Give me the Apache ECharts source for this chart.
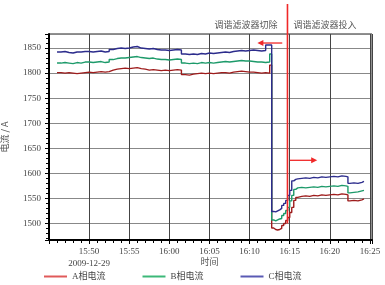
<!DOCTYPE html>
<html><head><meta charset="utf-8">
<script src="https://cdn.jsdelivr.net/npm/echarts@6/dist/echarts.min.js"></script>
<style>html,body{margin:0;padding:0;background:#fff}#c{width:385px;height:285px}</style>
</head><body><div id="c"></div>
<script>
var seriesNames = ['A相电流', 'B相电流', 'C相电流'];
var times = [
 '15:46:00','15:46:30','15:47:00','15:47:30','15:48:00','15:48:30','15:49:00','15:49:30','15:50:00','15:50:30',
 '15:51:00','15:51:30','15:52:00','15:52:30','15:53:00','15:53:30','15:54:00','15:54:30','15:55:00','15:55:30',
 '15:56:00','15:56:30','15:57:00','15:57:30','15:58:00','15:58:30','15:59:00','15:59:30','16:00:00','16:00:30',
 '16:01:00','16:01:30','16:02:00','16:02:30','16:03:00','16:03:30','16:04:00','16:04:30','16:05:00','16:05:30',
 '16:06:00','16:06:30','16:07:00','16:07:30','16:08:00','16:08:30','16:09:00','16:09:30','16:10:00','16:10:30',
 '16:11:00','16:11:30','16:12:00','16:12:30',
 '16:12:45','16:13:00','16:13:15','16:13:30','16:13:45','16:14:00','16:14:15','16:14:30','16:14:45','16:15:00',
 '16:15:15','16:15:30','16:15:45','16:16:00','16:16:30','16:17:00','16:17:30','16:18:00','16:18:30','16:19:00',
 '16:19:30','16:20:00','16:20:30','16:21:00','16:21:30','16:22:00','16:22:15','16:22:30','16:23:00','16:23:30',
 '16:24:00','16:24:15'
];
var phaseA = [
 1801,1800,1801,1800,1799,1800,1801,1802,1801,1802,1803,1802,1803,1806,1808,1809,1810,1809,1810,1811,
 1809,1808,1806,1807,1806,1805,1806,1805,1806,1807,1806,1797,1796,1798,1799,1800,1799,1800,1799,1800,
 1801,1801,1800,1802,1803,1804,1803,1802,1802,1801,1800,1801,1800,1816,
 1491,1488,1487,1488,1490,1496,1500,1506,1512,1522,1532,1546,1552,1554,1555,1554,1556,1555,1557,1556,
 1557,1558,1557,1559,1558,1557,1545,1546,1545,1547,1549,1549
];
var phaseB = [
 1820,1821,1820,1819,1821,1820,1822,1822,1821,1822,1823,1821,1822,1827,1829,1830,1830,1831,1832,1833,
 1831,1830,1829,1830,1828,1827,1827,1826,1827,1828,1827,1820,1819,1820,1819,1821,1820,1821,1820,1821,
 1822,1823,1822,1823,1824,1825,1824,1824,1823,1822,1822,1821,1822,1838,
 1507,1505,1507,1509,1510,1516,1520,1526,1532,1545,1556,1568,1571,1572,1571,1572,1573,1572,1574,1573,
 1574,1575,1574,1576,1575,1574,1561,1562,1563,1565,1566,1566
];
var phaseC = [
 1842,1843,1841,1840,1842,1842,1843,1843,1842,1843,1844,1842,1843,1847,1849,1850,1849,1850,1852,1853,
 1850,1849,1848,1849,1847,1846,1846,1845,1846,1847,1846,1838,1837,1838,1837,1839,1838,1840,1839,1840,
 1841,1842,1841,1843,1844,1845,1844,1845,1846,1845,1844,1845,1856,1856,
 1524,1523,1525,1527,1530,1536,1540,1546,1556,1566,1585,1588,1589,1590,1591,1590,1592,1591,1593,1592,
 1593,1594,1593,1595,1594,1593,1580,1581,1580,1582,1584,1584
];
var xTickLabels = {50:'15:50\n2009-12-29',55:'15:55',60:'16:00',65:'16:05',70:'16:10',75:'16:15',80:'16:20',85:'16:25'};
var xName = '时间';
var switchTime = '16:14:43';
var annotCut = '调谐滤波器切除';
var annotOn = '调谐滤波器投入';

function toMin(s){var p=s.split(':');return +p[0]*60 + +p[1] + +p[2]/60 - 900;}
function pairs(vals){return times.map(function(t,i){return [toMin(t), vals[i]];});}

var lineColors = ['#9e1c1c', '#1d9a6a', '#2c2c8c'];
var legendColors = ['#e05a5a', '#3cb878', '#5a5ab4'];
var fontF = '"Liberation Serif","Noto Sans CJK SC",serif';
var cjkF = '"Noto Sans CJK SC","Liberation Serif",sans-serif';

var chart = echarts.init(document.getElementById('c'), null, {renderer:'canvas'});
var data = [phaseA, phaseB, phaseC];
chart.setOption({
  animation:false,
  grid:{left:49, right:13, top:34, bottom:45, show:true, borderColor:'#222', borderWidth:1,
        containLabel:false, outerBoundsMode:'none'},
  xAxis:{
    type:'value', min:45, max:85.25, interval:5,
    axisLine:{show:true, lineStyle:{color:'#000', width:2}},
    axisTick:{show:true, length:4, lineStyle:{color:'#000'}},
    minorTick:{show:true, splitNumber:5, length:3, lineStyle:{color:'#000'}},
    splitLine:{show:true, lineStyle:{color:'#444', width:1}},
    axisLabel:{margin:6, fontFamily:fontF, fontSize:9, color:'#444', lineHeight:12, hideOverlap:false,
      formatter:function(v){return xTickLabels[Math.round(v)] && Math.abs(v-Math.round(v))<1e-6 ? xTickLabels[Math.round(v)] : '';}}
  },
  yAxis:{
    type:'value', min:1467, max:1878, splitNumber:8,
    name:'电流 / A', nameLocation:'middle', nameGap:40, nameRotate:90, nameMoveOverlap:false,
    nameTextStyle:{fontFamily:cjkF, fontSize:9, color:'#555'},
    axisLine:{show:true, lineStyle:{color:'#000', width:2}},
    axisTick:{show:true, length:4, lineStyle:{color:'#000'}},
    minorTick:{show:true, splitNumber:5, length:3, lineStyle:{color:'#000'}},
    splitLine:{show:true, lineStyle:{color:'#888', width:1}},
    axisLabel:{margin:8, fontFamily:fontF, fontSize:9, color:'#444',
      formatter:function(v){return v%50===0 ? String(v) : '';}}
  },
  legend:{
    top:272, left:44, itemGap:37, itemWidth:23, itemHeight:2, icon:'rect', padding:0,
    textStyle:{fontFamily:fontF, fontSize:9, color:'#444'},
    data:seriesNames.map(function(n,i){return {name:n, itemStyle:{color:legendColors[i]}};})
  },
  series:seriesNames.map(function(n,i){
    return {name:n, type:'line', step:'end', showSymbol:false, symbol:'none',
      data:pairs(data[i]), color:lineColors[i], lineStyle:{width:1.4, color:lineColors[i]}, z:2+i};
  })
});

var sw = toMin(switchTime);
var p1 = chart.convertToPixel({gridIndex:0}, [sw, 1500]);
var pTop = chart.convertToPixel({gridIndex:0}, [sw, 1878]);
var la1 = chart.convertToPixel({gridIndex:0}, [sw-0.65, 1860]);
var la2 = chart.convertToPixel({gridIndex:0}, [sw-3.75, 1860]);
var ra1 = chart.convertToPixel({gridIndex:0}, [sw+0.3, 1626]);
var ra2 = chart.convertToPixel({gridIndex:0}, [sw+3.7, 1626]);
var nm = chart.convertToPixel({gridIndex:0}, [65, 1467]);
var red = '#f02828';
chart.setOption({graphic:[
  {type:'line', shape:{x1:p1[0], y1:p1[1], x2:pTop[0], y2:4}, style:{stroke:red, lineWidth:1.6}, z:100},
  {type:'line', shape:{x1:la1[0], y1:la1[1], x2:la2[0]+5, y2:la2[1]}, style:{stroke:red, lineWidth:1.3}, z:100},
  {type:'polygon', shape:{points:[[la2[0],la2[1]],[la2[0]+6,la2[1]-3],[la2[0]+6,la2[1]+3]]}, style:{fill:red}, z:100},
  {type:'line', shape:{x1:ra1[0], y1:ra1[1], x2:ra2[0]-5, y2:ra2[1]}, style:{stroke:red, lineWidth:1.3}, z:100},
  {type:'polygon', shape:{points:[[ra2[0],ra2[1]],[ra2[0]-6,ra2[1]-3],[ra2[0]-6,ra2[1]+3]]}, style:{fill:red}, z:100},
  {type:'text', x:pTop[0]-10, y:25, style:{text:annotCut, font:'9px '+cjkF, fill:'#555', align:'right', verticalAlign:'middle'}, z:100},
  {type:'text', x:pTop[0]+6, y:25, style:{text:annotOn, font:'9px '+cjkF, fill:'#555', align:'left', verticalAlign:'middle'}, z:100},
  {type:'text', x:nm[0], y:nm[1]+22, style:{text:xName, font:'9px '+cjkF, fill:'#555', align:'center', verticalAlign:'middle'}, z:100}
]});
</script></body></html>
